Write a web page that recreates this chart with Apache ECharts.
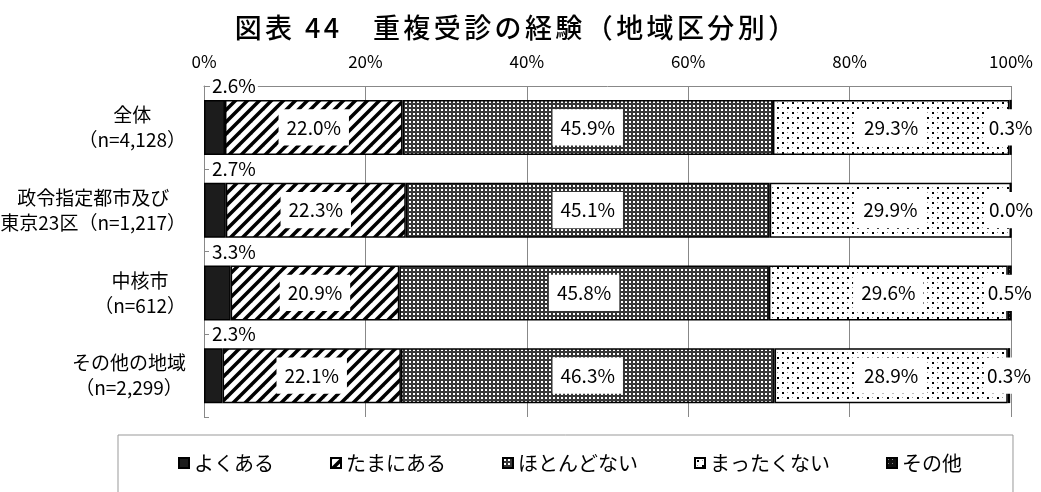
<!DOCTYPE html>
<html>
<head>
<meta charset="utf-8">
<script src="https://cdn.jsdelivr.net/npm/echarts@6/dist/echarts.min.js"></script>
<style>
html, body { margin: 0; padding: 0; background: #fff; }
#chart { width: 1041px; height: 492px; }
</style>
</head>
<body>
<div id="chart"></div>
<script>
// data
const regions = ['全体\n（n=4,128）', '政令指定都市及び\n東京23区（n=1,217）', '中核市\n（n=612）', 'その他の地域\n（n=2,299）'];
const answers = ['よくある', 'たまにある', 'ほとんどない', 'まったくない', 'その他'];
const often = [2.6, 2.7, 3.3, 2.3];
const sometimes = [22.0, 22.3, 20.9, 22.1];
const rarely = [45.9, 45.1, 45.8, 46.3];
const never = [29.3, 29.9, 29.6, 28.9];
const other = [0.3, 0.0, 0.5, 0.3];
const values = [often, sometimes, rarely, never, other];
const titleText = '図表 44　重複受診の経験（地域区分別）';

const FONT = "'Noto Sans CJK JP', sans-serif";

// little canvas tiles to mimic the excel fill patterns
function tile(w, h, draw) {
  const c = document.createElement('canvas');
  c.width = w;
  c.height = h;
  draw(c.getContext('2d'));
  return { image: c, repeat: 'repeat' };
}

const solid = '#1c1c1c';
const stripes = tile(12, 12, g => {
  g.fillStyle = '#fff';
  g.fillRect(0, 0, 12, 12);
  g.strokeStyle = '#000';
  g.lineWidth = 3.5;
  for (let k = -1; k <= 1; k++) {
    g.beginPath();
    g.moveTo(k * 12 - 2, 14);
    g.lineTo(k * 12 + 14, -2);
    g.stroke();
  }
});
const grid = tile(4, 4, g => {
  g.fillStyle = '#363636';
  g.fillRect(0, 0, 4, 4);
  g.fillStyle = '#fff';
  g.fillRect(1, 1, 2, 2);
});
const dots = tile(10, 10, g => {
  g.fillStyle = '#fff';
  g.fillRect(0, 0, 10, 10);
  g.fillStyle = '#000';
  g.fillRect(2, 2, 2, 2);
  g.fillRect(7, 7, 2, 2);
  g.fillStyle = '#999';
  g.fillRect(7, 2, 1, 1);
  g.fillRect(2, 7, 1, 1);
});
const dark = tile(4, 4, g => {
  g.fillStyle = '#111';
  g.fillRect(0, 0, 4, 4);
  g.fillStyle = '#888';
  g.fillRect(1, 1, 1, 1);
});
const fills = [solid, stripes, grid, dots, dark];

const pct = p => p.value.toFixed(1) + '%';
const labelBase = { show: true, formatter: pct, color: '#000', fontFamily: FONT, fontSize: 19, backgroundColor: '#fff' };

const labels = [
  Object.assign({}, labelBase, { position: [6, -14], align: 'left', verticalAlign: 'middle', padding: [0, 2] }),
  Object.assign({}, labelBase, { position: 'inside', padding: [9, 8, 8, 8] }),
  Object.assign({}, labelBase, { position: 'inside', padding: [9, 8, 8, 8] }),
  Object.assign({}, labelBase, { position: 'inside', padding: [9, 8, 8, 8] }),
  Object.assign({}, labelBase, { position: 'inside', padding: [9, 3, 8, 3] })
];

const series = answers.map((name, i) => ({
  name: name,
  type: 'bar',
  stack: 'total',
  barWidth: 55,
  data: values[i],
  itemStyle: { color: fills[i], borderColor: '#000', borderWidth: 1.5 },
  label: labels[i]
}));

const chart = echarts.init(document.getElementById('chart'));
chart.setOption({
  animation: false,
  backgroundColor: '#fff',
  title: {
    // one token per character so the title gets the wide letter spacing of the original
    text: titleText.split('').map(ch => '{t|' + ch + '}').join(''),
    left: 228,
    top: 9,
    textStyle: {
      fontWeight: 500,
      rich: { t: { fontFamily: FONT, fontSize: 27, fontWeight: 500, color: '#000', padding: [0, 1.7] } }
    }
  },
  legend: {
    data: answers,
    left: 118,
    top: 435,
    padding: [18, 51, 40, 60],
    borderColor: '#999',
    borderWidth: 1,
    icon: 'rect',
    itemWidth: 10,
    itemHeight: 10,
    itemGap: 56,
    textStyle: { fontFamily: FONT, fontSize: 20, color: '#000' }
  },
  grid: { left: 204, right: 30, top: 86, bottom: 75, outerBoundsMode: 'none' },
  xAxis: {
    type: 'value',
    position: 'top',
    min: 0,
    max: 100,
    interval: 20,
    axisLine: { show: true, lineStyle: { color: '#888' } },
    axisTick: { show: false },
    axisLabel: { formatter: '{value}%', margin: 16, color: '#000', fontFamily: FONT, fontSize: 17 },
    splitLine: { lineStyle: { color: '#888' } }
  },
  yAxis: {
    type: 'category',
    inverse: true,
    data: regions,
    axisLine: { lineStyle: { color: '#888' } },
    axisTick: { show: true, inside: true, length: 5, lineStyle: { color: '#888' } },
    axisLabel: {
      margin: 18,
      formatter: v => v.split('\n').map(s => '{c|' + s + '}').join('\n'),
      rich: { c: { align: 'center', fontSize: 19, lineHeight: 25, fontFamily: FONT, color: '#000' } }
    }
  },
  series: series
});
</script>
</body>
</html>
